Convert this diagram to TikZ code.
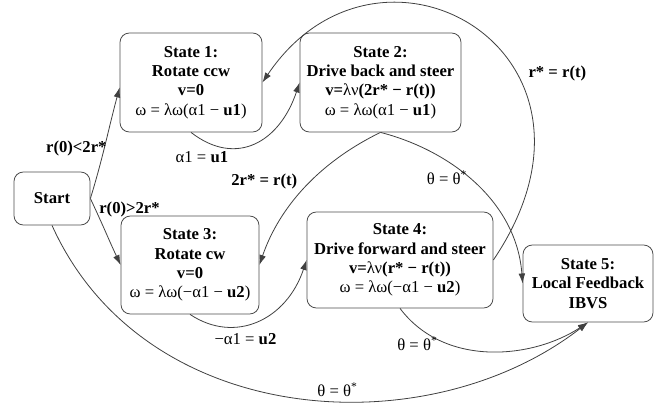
\documentclass[tikz,border=0pt]{standalone}
\usepackage{fontspec}
\setmainfont{Liberation Serif}
\usetikzlibrary{arrows.meta}
\tikzset{%
    >={Latex[width=5pt,length=7.5pt]},
    stbox/.style = {rectangle, rounded corners=7pt, draw=black!70, line width=0.6pt,
                    align=center, inner sep=2pt, font=\fontsize{12.5}{14.5}\selectfont},
    lbl/.style   = {font=\fontsize{12.5}{14.5}\selectfont, inner sep=3pt},
    seta/.style  = {->, draw=black!75, line width=0.6pt},
}

\begin{document}
\begin{tikzpicture}[x=0.75pt, y=0.75pt]
    \useasboundingbox (0,0) rectangle (662,407);

    \node (ini) [stbox, minimum width=57pt,    minimum height=39.75pt] at (52,208.5)  {\textbf{Start}};
    \node (st1) [stbox, minimum width=106.5pt, minimum height=74.25pt] at (191,324.5)
        {\textbf{State 1:}\\ \textbf{Rotate ccw}\\ \textbf{v=0}\\ ω = λω(α1 − \textbf{u1})};
    \node (st2) [stbox, minimum width=120.75pt, minimum height=74.25pt] at (380.5,324.5)
        {\textbf{State 2:}\\ \textbf{Drive back and steer}\\ \textbf{v=}λν\textbf{(2r* − r(t))}\\ ω = λω(α1 − \textbf{u1})};
    \node (st3) [stbox, minimum width=103.5pt, minimum height=73.5pt]  at (190,142)
        {\textbf{State 3:}\\ \textbf{Rotate cw}\\ \textbf{v=0}\\ ω = λω(−α1 − \textbf{u2})};
    \node (st4) [stbox, minimum width=139.5pt, minimum height=72pt]    at (400,147)
        {\textbf{State 4:}\\ \textbf{Drive forward and steer}\\ \textbf{v=}λν\textbf{(r* − r(t))}\\ ω = λω(−α1 − \textbf{u2})};
    \node (st5) [stbox, minimum width=97.5pt,  minimum height=57.75pt] at (588,123.5)
        {\textbf{State 5:}\\ \textbf{Local Feedback}\\ \textbf{IBVS}};

    % start branches
    \draw[seta] (ini.east) .. controls +(73:45) and +(-105:45) .. (st1.184)
        node[lbl, pos=.45, xshift=-21pt] {\textbf{r(0)<2r*}};
    \draw[seta] (ini.east) .. controls +(-65:35) and +(115:30) .. (st3.west)
        node[lbl, pos=.1, xshift=26.25pt, yshift=-1.3pt] {\textbf{r(0)>2r*}};
    % transitions between states
    \draw[seta] (st1.south) .. controls +(45,-35) and +(-20,-60) .. (st2.west)
        node[lbl, pos=.2, xshift=-11.8pt, yshift=-8.25pt] {α1 = \textbf{u1}};
    \draw[seta] (st2.south) .. controls +(-62.9,-30.7) and +(19.5,56.7) .. (st3.east)
        node[lbl, pos=.4, xshift=-39pt, yshift=-3.75pt] {\textbf{2r* = r(t)}};
    \draw[seta] (st3.south) .. controls +(45,-30) and +(-20,-60) .. (st4.west)
        node[lbl, pos=.3, xshift=10.65pt, yshift=-9.1pt] {−α1 = \textbf{u2}};
    \draw[seta] (st4.east) .. controls +(56:250) and +(56:210) .. (st1.east)
        node[lbl, pos=.35, xshift=29.25pt, yshift=2.5pt] {\textbf{r* = r(t)}};
    % to local feedback
    \draw[seta] (st2.south) .. controls +(70,-18) and +(-6,82) .. (st5.west)
        node[lbl, pos=.4, xshift=-9pt, yshift=-6pt] {θ = θ\textsuperscript{*}};
    \draw[seta] (st4.south) .. controls +(44.7,-59.4) and +(-55.3,-36.4) .. (st5.south)
        node[lbl, pos=.2, xshift=-10.5pt, yshift=-5.8pt] {θ = θ\textsuperscript{*}};
    \draw[seta] (ini.south) .. controls +(92,-204) and +(-161,-125) .. (st5.south)
        node[lbl, pos=.57, above] {θ = θ\textsuperscript{*}};
\end{tikzpicture}
\end{document}
